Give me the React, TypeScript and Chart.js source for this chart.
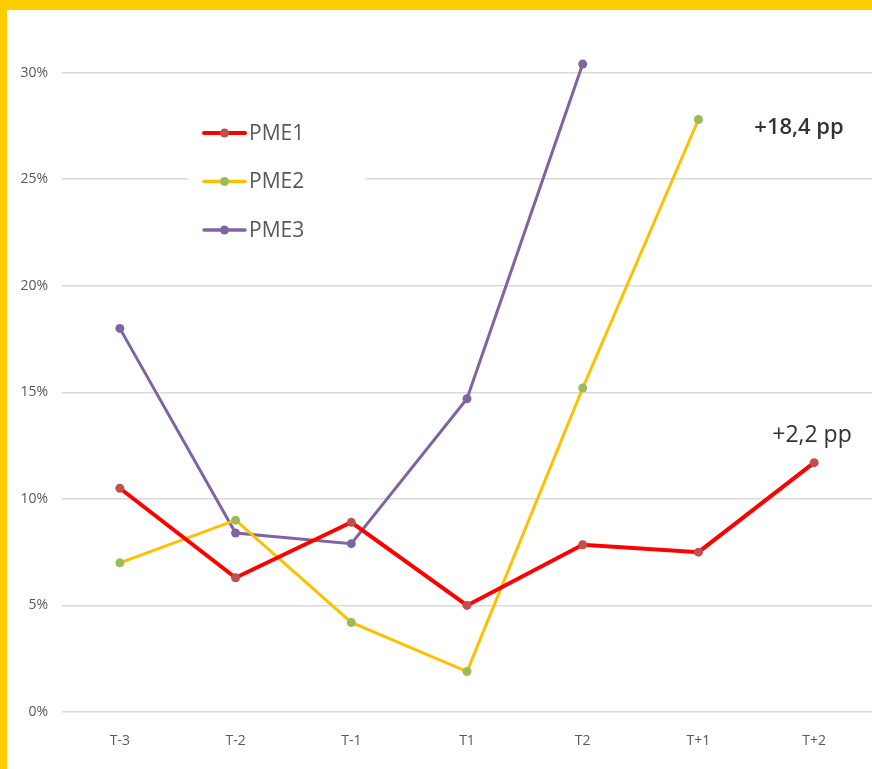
import React, { useEffect, useRef } from "react";
import { Chart, registerables } from "chart.js";

Chart.register(...registerables);

const categories = ["T-3", "T-2", "T-1", "T1", "T2", "T+1", "T+2"];
const pme1 = [0.105, 0.063, 0.089, 0.050, 0.0785, 0.075, 0.117];
const pme2 = [0.070, 0.090, 0.042, 0.019, 0.152, 0.278, null];
const pme3 = [0.180, 0.084, 0.079, 0.147, 0.304, null, null];
const seriesNames = ["PME1", "PME2", "PME3"];
const lineColors = ["#FF0000", "#FFC000", "#8064A2"];
const pointColors = ["#C0504D", "#9BBB59", "#8064A2"];
const annotations = [
  { text: "+18,4 pp", series: 1, index: 5 },
  { text: "+2,2 pp", series: 0, index: 6 },
];

const FONT = "'Open Sans', 'Noto Sans', sans-serif";

const overlayPlugin = {
  id: "overlay",
  afterDatasetsDraw(chart: any) {
    const ctx = chart.ctx;
    ctx.save();
    // legend box
    ctx.fillStyle = "#ffffff";
    ctx.fillRect(181, 100, 177, 150);
    seriesNames.forEach((name, i) => {
      const y = 123 + i * 48.5;
      ctx.strokeStyle = lineColors[i];
      ctx.lineWidth = i === 0 ? 4 : 3.5;
      ctx.lineCap = "round";
      ctx.beginPath();
      ctx.moveTo(197, y);
      ctx.lineTo(238, y);
      ctx.stroke();
      ctx.fillStyle = pointColors[i];
      ctx.beginPath();
      ctx.arc(217.5, y, 4.5, 0, Math.PI * 2);
      ctx.fill();
      ctx.fillStyle = "#595959";
      ctx.font = `21px ${FONT}`;
      ctx.textAlign = "left";
      ctx.textBaseline = "middle";
      ctx.fillText(name, 242, y + 1);
    });
    // annotations
    ctx.fillStyle = "#333333";
    ctx.textAlign = "center";
    ctx.textBaseline = "middle";
    ctx.font = `600 22px ${FONT}`;
    ctx.fillText(annotations[0].text, 792, 118);
    ctx.font = `23px ${FONT}`;
    ctx.fillText(annotations[1].text, 805, 425);
    ctx.restore();
  },
};

export default function App() {
  const ref = useRef<HTMLCanvasElement>(null);
  useEffect(() => {
    if (!ref.current) return;
    const data = [pme1, pme2, pme3];
    const chart = new Chart(ref.current, {
      type: "line",
      data: {
        labels: categories,
        datasets: data.map((d, i) => ({
          label: seriesNames[i],
          data: d,
          borderColor: lineColors[i],
          backgroundColor: pointColors[i],
          pointBackgroundColor: pointColors[i],
          pointBorderColor: pointColors[i],
          borderWidth: i === 0 ? 4 : 3,
          pointRadius: 4.5,
          pointBorderWidth: 0,
          tension: 0,
          spanGaps: false,
          clip: false as any,
        })),
      },
      options: {
        animation: false,
        responsive: false,
        maintainAspectRatio: false,
        layout: { autoPadding: false, padding: { left: 0, right: 0, top: 20, bottom: 0 } },
        plugins: {
          legend: { display: false },
          tooltip: { enabled: false },
        },
        scales: {
          x: {
            offset: true,
            grid: { display: false, drawTicks: false },
            border: { display: false },
            ticks: {
              color: "#595959",
              font: { family: FONT, size: 14 },
              padding: 21,
            },
            afterFit(scale: any) {
              scale.height = 57;
              scale.paddingLeft = 0;
              scale.paddingRight = 0;
            },
          },
          y: {
            min: 0,
            max: 0.32,
            grid: {
              color: (c: any) => (c.tick && c.tick.value > 0.301 ? "rgba(0,0,0,0)" : "#d9d9d9"),
              lineWidth: 1.5,
              drawTicks: false,
            },
            border: { display: false },
            ticks: {
              stepSize: 0.05,
              color: "#595959",
              font: { family: FONT, size: 14 },
              padding: 14,
              callback: (v: any) => {
                const n = Math.round(Number(v) * 100);
                return n > 30 ? "" : n + "%";
              },
            },
            afterFit(scale: any) {
              scale.width = 55;
              scale.paddingTop = 0;
              scale.paddingBottom = 0;
            },
          },
        },
      },
      plugins: [overlayPlugin],
    });
    return () => chart.destroy();
  }, []);
  return (
    <div
      style={{
        position: "fixed",
        left: 0,
        top: 0,
        width: 872,
        height: 769,
        boxSizing: "border-box",
        borderTop: "10px solid #FFCC00",
        borderLeft: "7px solid #FFCC00",
        background: "#ffffff",
      }}
    >
      <canvas ref={ref} width={865} height={759} style={{ display: "block" }} />
    </div>
  );
}
